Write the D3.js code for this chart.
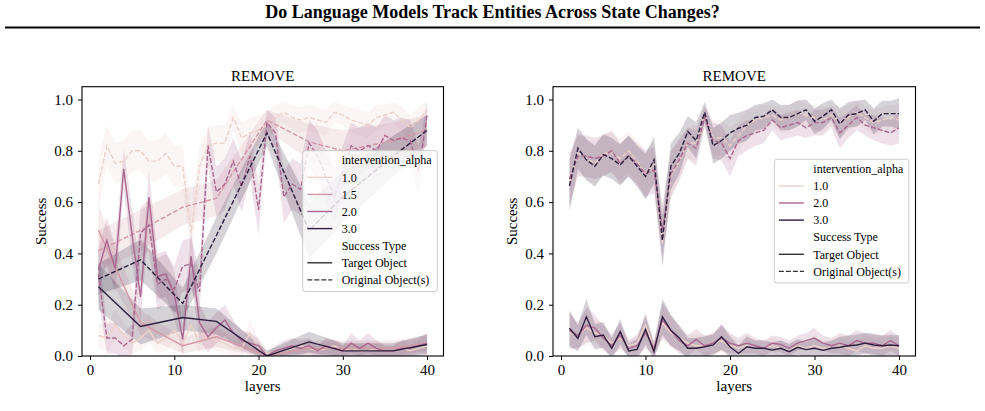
<!DOCTYPE html>
<html>
<head>
<meta charset="utf-8">
<script src="https://cdn.jsdelivr.net/npm/d3@7"></script>
<style>
  body { margin: 0; background: #fff; }
  svg { font-family: "Liberation Serif", "Times New Roman", serif; }
</style>
</head>
<body>
<svg id="chart" width="985" height="411"></svg>
<script>
'use strict';

//
// data
//
var layers = [1, 2, 3, 4, 5, 6, 7, 8, 9, 10, 11, 12, 13, 14, 15, 16, 17, 18, 19, 20,
  21, 22, 23, 24, 25, 26, 27, 28, 29, 30, 31, 32, 33, 34, 35, 36, 37, 38, 39, 40];
var layersSparse = [1, 6, 11, 15, 21, 26, 30, 36, 40];

var yTicks = [0.0, 0.2, 0.4, 0.6, 0.8, 1.0];
var xTicks = [0, 10, 20, 30, 40];
var typeLabels = ["Target Object", "Original Object(s)"];

// left panel
var leftHues = [1.0, 1.5, 2.0, 3.0];
var left_a10_target = [0.08, 0.07, 0.12, 0.08, 0.05, 0.07, 0.10, 0.05, 0.07, 0.10, 0.05, 0.12, 0.05, 0.08, 0.06, 0.05, 0.03, 0.03, 0.09, 0.03,
  0.01, 0.01, 0.02, 0.03, 0.04, 0.03, 0.02, 0.03, 0.04, 0.02, 0.03, 0.02, 0.02, 0.03, 0.02, 0.02, 0.03, 0.02, 0.03, 0.04];
var left_a10_target_ci = [0.05, 0.05, 0.06, 0.05, 0.04, 0.05, 0.05, 0.04, 0.05, 0.05, 0.04, 0.05, 0.04, 0.05, 0.04, 0.04, 0.03, 0.03, 0.05, 0.03,
  0.02, 0.02, 0.02, 0.03, 0.03, 0.03, 0.02, 0.03, 0.03, 0.02, 0.03, 0.02, 0.02, 0.03, 0.02, 0.02, 0.03, 0.02, 0.03, 0.03];
var left_a10_orig = [0.67, 0.82, 0.75, 0.76, 0.80, 0.80, 0.76, 0.76, 0.79, 0.74, 0.74, 0.48, 0.74, 0.82, 0.83, 0.83, 0.93, 0.85, 0.87, 0.88,
  0.90, 0.93, 0.95, 0.93, 0.92, 0.93, 0.92, 0.91, 0.95, 0.94, 0.92, 0.91, 0.90, 0.93, 0.94, 0.95, 0.92, 0.89, 0.92, 0.96];
var left_a10_orig_ci = [0.10, 0.08, 0.08, 0.08, 0.08, 0.08, 0.08, 0.08, 0.08, 0.08, 0.08, 0.10, 0.08, 0.07, 0.07, 0.07, 0.05, 0.06, 0.06, 0.06,
  0.05, 0.05, 0.04, 0.05, 0.05, 0.05, 0.05, 0.05, 0.04, 0.04, 0.05, 0.05, 0.05, 0.05, 0.04, 0.04, 0.05, 0.05, 0.05, 0.04];
var left_a15_target = [0.49, 0.13, 0.04, 0.075, 0.0, 0.03, 0.03, 0.03, 0.05];
var left_a15_target_ci = [0.10, 0.05, 0.03, 0.04, 0.01, 0.03, 0.03, 0.03, 0.03];
var left_a15_orig = [0.41, 0.49, 0.58, 0.615, 0.92, 0.835, 0.80, 0.84, 0.88];
var left_a15_orig_ci = [0.08, 0.08, 0.07, 0.07, 0.04, 0.07, 0.08, 0.07, 0.06];
var left_a20_target = [0.335, 0.45, 0.34, 0.73, 0.47, 0.23, 0.62, 0.31, 0.32, 0.24, 0.065, 0.39, 0.13, 0.075, 0.11, 0.14, 0.09, 0.06, 0.05, 0.04,
  0.0, 0.02, 0.03, 0.04, 0.03, 0.04, 0.02, 0.04, 0.03, 0.02, 0.05, 0.03, 0.05, 0.03, 0.02, 0.02, 0.03, 0.03, 0.04, 0.05];
var left_a20_target_ci = [0.08, 0.09, 0.09, 0.08, 0.10, 0.09, 0.10, 0.09, 0.09, 0.09, 0.06, 0.10, 0.07, 0.06, 0.06, 0.06, 0.05, 0.04, 0.04, 0.03,
  0.01, 0.02, 0.03, 0.03, 0.03, 0.03, 0.02, 0.03, 0.03, 0.02, 0.04, 0.03, 0.04, 0.03, 0.02, 0.02, 0.03, 0.03, 0.03, 0.04];
var left_a20_orig = [0.32, 0.07, 0.07, 0.04, 0.065, 0.48, 0.51, 0.28, 0.30, 0.26, 0.35, 0.36, 0.25, 0.82, 0.64, 0.67, 0.76, 0.66, 0.78, 0.57,
  0.91, 0.87, 0.62, 0.67, 0.65, 0.83, 0.78, 0.70, 0.62, 0.72, 0.82, 0.80, 0.82, 0.80, 0.86, 0.84, 0.85, 0.84, 0.72, 0.94];
var left_a20_orig_ci = [0.10, 0.06, 0.06, 0.05, 0.06, 0.10, 0.10, 0.10, 0.10, 0.09, 0.10, 0.10, 0.08, 0.08, 0.10, 0.10, 0.09, 0.10, 0.09, 0.10,
  0.05, 0.06, 0.10, 0.10, 0.10, 0.09, 0.10, 0.10, 0.10, 0.10, 0.09, 0.09, 0.09, 0.09, 0.08, 0.08, 0.08, 0.08, 0.10, 0.05];
var left_a30_target = [0.27, 0.115, 0.15, 0.135, 0.0, 0.055, 0.02, 0.02, 0.045];
var left_a30_target_ci = [0.09, 0.07, 0.05, 0.05, 0.02, 0.04, 0.03, 0.03, 0.04];
var left_a30_orig = [0.30, 0.375, 0.205, 0.47, 0.87, 0.49, 0.62, 0.78, 0.88];
var left_a30_orig_ci = [0.06, 0.08, 0.06, 0.07, 0.05, 0.11, 0.10, 0.08, 0.06];

// right panel
var rightHues = [1.0, 2.0, 3.0];
var right_a10_target = [0.09, 0.08, 0.11, 0.09, 0.08, 0.05, 0.07, 0.04, 0.05, 0.12, 0.03, 0.13, 0.09, 0.07, 0.05, 0.04, 0.04, 0.05, 0.06, 0.04,
  0.03, 0.04, 0.03, 0.03, 0.04, 0.03, 0.02, 0.04, 0.03, 0.04, 0.03, 0.03, 0.04, 0.03, 0.02, 0.04, 0.03, 0.03, 0.04, 0.03];
var right_a20_target = [0.10, 0.08, 0.12, 0.11, 0.07, 0.04, 0.08, 0.03, 0.04, 0.09, 0.03, 0.14, 0.10, 0.06, 0.04, 0.065, 0.04, 0.05, 0.07, 0.05,
  0.04, 0.05, 0.04, 0.03, 0.05, 0.045, 0.03, 0.05, 0.06, 0.07, 0.05, 0.04, 0.05, 0.04, 0.06, 0.05, 0.05, 0.04, 0.06, 0.04];
var right_a30_target = [0.108, 0.069, 0.153, 0.075, 0.082, 0.03, 0.095, 0.02, 0.026, 0.104, 0.017, 0.153, 0.10, 0.07, 0.03, 0.03, 0.036, 0.043, 0.075, 0.036,
  0.01, 0.036, 0.03, 0.03, 0.023, 0.03, 0.017, 0.034, 0.025, 0.03, 0.022, 0.03, 0.034, 0.04, 0.043, 0.05, 0.043, 0.04, 0.043, 0.04];
var right_target_ci = [0.07, 0.05, 0.07, 0.05, 0.05, 0.04, 0.05, 0.03, 0.04, 0.06, 0.03, 0.07, 0.06, 0.05, 0.04, 0.04, 0.04, 0.04, 0.05, 0.04,
  0.03, 0.04, 0.03, 0.03, 0.03, 0.03, 0.03, 0.03, 0.03, 0.04, 0.03, 0.03, 0.04, 0.04, 0.04, 0.04, 0.04, 0.04, 0.04, 0.04];
var right_a10_orig = [0.68, 0.79, 0.77, 0.75, 0.79, 0.79, 0.77, 0.80, 0.76, 0.71, 0.75, 0.44, 0.70, 0.76, 0.83, 0.83, 0.94, 0.85, 0.85, 0.82,
  0.86, 0.90, 0.92, 0.93, 0.94, 0.92, 0.93, 0.95, 0.94, 0.93, 0.92, 0.94, 0.91, 0.93, 0.95, 0.93, 0.91, 0.92, 0.93, 0.92];
var right_a20_orig = [0.69, 0.78, 0.78, 0.77, 0.78, 0.80, 0.75, 0.78, 0.75, 0.71, 0.725, 0.49, 0.71, 0.765, 0.83, 0.81, 0.93, 0.84, 0.83, 0.77,
  0.84, 0.86, 0.87, 0.88, 0.92, 0.89, 0.90, 0.91, 0.89, 0.91, 0.91, 0.93, 0.87, 0.90, 0.93, 0.90, 0.89, 0.88, 0.87, 0.89];
var right_a30_orig = [0.663, 0.81, 0.765, 0.74, 0.785, 0.77, 0.745, 0.78, 0.74, 0.70, 0.765, 0.45, 0.74, 0.79, 0.875, 0.84, 0.95, 0.82, 0.84, 0.87,
  0.888, 0.90, 0.93, 0.935, 0.96, 0.93, 0.93, 0.945, 0.96, 0.915, 0.935, 0.96, 0.905, 0.94, 0.945, 0.96, 0.915, 0.945, 0.945, 0.945];
var right_orig_ci = [0.10, 0.08, 0.08, 0.08, 0.08, 0.08, 0.08, 0.08, 0.08, 0.09, 0.09, 0.10, 0.09, 0.08, 0.06, 0.07, 0.04, 0.07, 0.07, 0.07,
  0.06, 0.06, 0.05, 0.05, 0.04, 0.05, 0.05, 0.05, 0.04, 0.05, 0.05, 0.04, 0.06, 0.05, 0.05, 0.04, 0.05, 0.05, 0.05, 0.06];

// series in seaborn's draw order: hue level, then style level
var leftSeries = [
  { hue: 1.0, type: 0, x: layers, y: left_a10_target, ci: left_a10_target_ci },
  { hue: 1.0, type: 1, x: layers, y: left_a10_orig, ci: left_a10_orig_ci },
  { hue: 1.5, type: 0, x: layersSparse, y: left_a15_target, ci: left_a15_target_ci },
  { hue: 1.5, type: 1, x: layersSparse, y: left_a15_orig, ci: left_a15_orig_ci },
  { hue: 2.0, type: 0, x: layers, y: left_a20_target, ci: left_a20_target_ci },
  { hue: 2.0, type: 1, x: layers, y: left_a20_orig, ci: left_a20_orig_ci },
  { hue: 3.0, type: 0, x: layersSparse, y: left_a30_target, ci: left_a30_target_ci },
  { hue: 3.0, type: 1, x: layersSparse, y: left_a30_orig, ci: left_a30_orig_ci }
];
var rightSeries = [
  { hue: 1.0, type: 0, x: layers, y: right_a10_target, ci: right_target_ci },
  { hue: 1.0, type: 1, x: layers, y: right_a10_orig, ci: right_orig_ci },
  { hue: 2.0, type: 0, x: layers, y: right_a20_target, ci: right_target_ci },
  { hue: 2.0, type: 1, x: layers, y: right_a20_orig, ci: right_orig_ci },
  { hue: 3.0, type: 0, x: layers, y: right_a30_target, ci: right_target_ci },
  { hue: 3.0, type: 1, x: layers, y: right_a30_orig, ci: right_orig_ci }
];

//
// seaborn "ch:" cubehelix colormap (light .85 -> dark .15)
//
function cubehelixColor(t) {
  var x = 0.85 + (0.15 - 0.85) * t;
  var a = 0.8 * x * (1 - x) / 2;
  var phi = 2 * Math.PI * (0.4 * x);
  var c = Math.cos(phi), s = Math.sin(phi);
  var clamp = v => Math.round(255 * Math.max(0, Math.min(1, v)));
  return d3.rgb(
    clamp(x + a * (-0.14861 * c + 1.78277 * s)),
    clamp(x + a * (-0.29227 * c - 0.90649 * s)),
    clamp(x + a * (1.97294 * c))
  ).formatHex();
}

var svg = d3.select("#chart");

// page header
svg.append("text")
  .attr("x", 492.5).attr("y", 18)
  .attr("text-anchor", "middle")
  .attr("font-weight", "bold")
  .attr("font-size", 18)
  .text("Do Language Models Track Entities Across State Changes?");
svg.append("line")
  .attr("x1", 5).attr("x2", 980)
  .attr("y1", 27.5).attr("y2", 27.5)
  .attr("stroke", "#000").attr("stroke-width", 2);

function drawPanel(series, hues, box, legendPos, clipId) {
  var x = d3.scaleLinear().domain([-0.95, 41.95]).range([box.left, box.right]);
  var y = d3.scaleLinear().domain([0, 1.05]).range([box.bottom, box.top]);
  var hmin = d3.min(hues), hmax = d3.max(hues);
  var color = h => cubehelixColor((h - hmin) / (hmax - hmin));

  var g = svg.append("g");

  g.append("clipPath").attr("id", clipId)
    .append("rect")
    .attr("x", box.left).attr("y", box.top)
    .attr("width", box.right - box.left).attr("height", box.bottom - box.top);

  var plot = g.append("g").attr("clip-path", "url(#" + clipId + ")");

  //
  // error bands first (zorder 1), then lines
  //
  var area = d3.area()
    .x(d => x(d.x))
    .y0(d => y(d.y - d.ci))
    .y1(d => y(d.y + d.ci));
  var line = d3.line()
    .x(d => x(d.x))
    .y(d => y(d.y));

  var rows = series.map(s => s.x.map((lx, i) => ({ x: lx, y: s.y[i], ci: s.ci[i] })));

  plot.selectAll(".band")
    .data(series)
    .enter().append("path")
    .attr("class", "band")
    .attr("d", (s, i) => area(rows[i]))
    .attr("fill", s => color(s.hue))
    .attr("fill-opacity", 0.2);

  plot.selectAll(".line")
    .data(series)
    .enter().append("path")
    .attr("class", "line")
    .attr("d", (s, i) => line(rows[i]))
    .attr("fill", "none")
    .attr("stroke", s => color(s.hue))
    .attr("stroke-width", 1.4)
    .attr("stroke-dasharray", s => s.type === 1 ? "5,2" : null);

  //
  // axes
  //
  var xAxis = g.append("g")
    .attr("transform", "translate(0," + box.bottom + ")")
    .call(d3.axisBottom(x).tickValues(xTicks).tickSize(4).tickPadding(4).tickSizeOuter(0));
  var yAxis = g.append("g")
    .attr("transform", "translate(" + box.left + ",0)")
    .call(d3.axisLeft(y).tickValues(yTicks).tickFormat(d3.format(".1f")).tickSize(4).tickPadding(5).tickSizeOuter(0));
  [xAxis, yAxis].forEach(a => {
    a.attr("font-family", null).attr("font-size", 15);
    a.select(".domain").remove();
    a.selectAll("line").attr("stroke", "#000").attr("stroke-width", 1);
    a.selectAll("text").attr("fill", "#000");
  });

  g.append("rect")
    .attr("x", box.left).attr("y", box.top)
    .attr("width", box.right - box.left).attr("height", box.bottom - box.top)
    .attr("fill", "none").attr("stroke", "#000").attr("stroke-width", 1.1);

  var cx = (box.left + box.right) / 2;
  g.append("text")
    .attr("x", cx).attr("y", 81)
    .attr("text-anchor", "middle").attr("font-size", 15)
    .text("REMOVE");
  g.append("text")
    .attr("x", cx).attr("y", 391)
    .attr("text-anchor", "middle").attr("font-size", 15)
    .text("layers");
  g.append("text")
    .attr("transform", "translate(" + (box.left - 36) + "," + ((box.top + box.bottom) / 2) + ") rotate(-90)")
    .attr("text-anchor", "middle").attr("font-size", 15)
    .text("Success");

  //
  // legend
  //
  var entries = [{ label: "intervention_alpha" }];
  hues.forEach(h => entries.push({ label: d3.format(".1f")(h), stroke: color(h) }));
  entries.push({ label: "Success Type" });
  typeLabels.forEach((t, i) => entries.push({ label: t, stroke: "#333333", dash: i === 1 }));

  var step = 17.1;
  var lg = g.append("g").attr("transform", "translate(" + legendPos.x + "," + legendPos.y + ")");
  lg.append("rect")
    .attr("width", 134.6).attr("height", entries.length * step + 4)
    .attr("rx", 2.5)
    .attr("fill", "#fff").attr("fill-opacity", 0.8)
    .attr("stroke", "#cccccc").attr("stroke-width", 1);

  var item = lg.selectAll(".item")
    .data(entries)
    .enter().append("g")
    .attr("transform", (d, i) => "translate(0," + (9.5 + i * step) + ")");
  item.filter(d => d.stroke)
    .append("line")
    .attr("x1", 4.6).attr("x2", 29.6)
    .attr("stroke", d => d.stroke)
    .attr("stroke-width", 1.4)
    .attr("stroke-dasharray", d => d.dash ? "5,2" : null);
  item.append("text")
    .attr("x", 39).attr("dy", "0.35em")
    .attr("font-size", 12)
    .text(d => d.label);
}

drawPanel(leftSeries, leftHues, { left: 82, right: 443.5, top: 86.7, bottom: 356 }, { x: 302.7, y: 150.7 }, "clipL");
drawPanel(rightSeries, rightHues, { left: 553, right: 915.5, top: 86.7, bottom: 356 }, { x: 774.3, y: 159.3 }, "clipR");
</script>
</body>
</html>
